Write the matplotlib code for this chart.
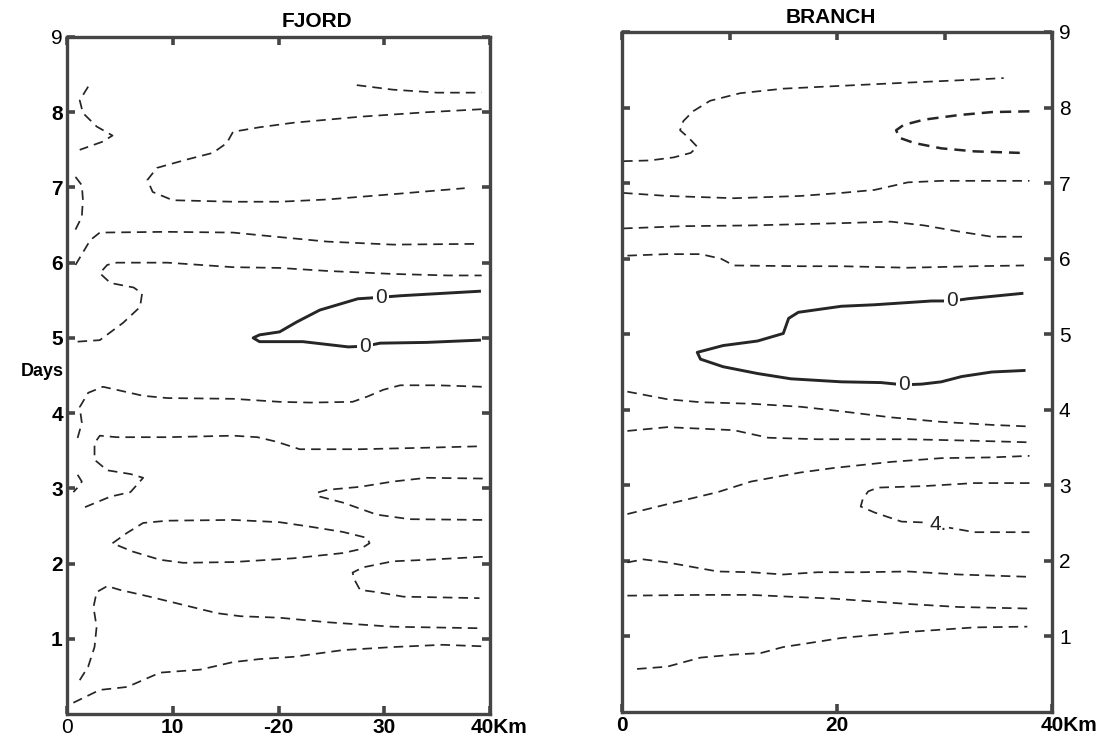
import matplotlib
matplotlib.use('Agg')
import matplotlib.pyplot as plt

plt.rcParams['font.family'] = ['Liberation Sans', 'DejaVu Sans']

# contour lines, as (km, day) pairs
# ---- FJORD ----
f_a = [(2.0, 8.34), (1.2, 8.16), (1.5, 7.99), (2.8, 7.81), (4.3, 7.69), (3.4, 7.61), (1.2, 7.50)]
f_b = [(0.8, 7.14), (1.4, 7.03), (1.5, 6.84), (1.4, 6.61), (0.8, 6.44)]
f_top = [(27.4, 8.36), (30.8, 8.30), (35.0, 8.26), (39.2, 8.26)]
f_e = [(39.2, 8.04), (34.0, 8.00), (27.7, 7.94), (21.4, 7.86), (18.2, 7.80), (15.7, 7.74), (15.1, 7.59),
       (13.8, 7.46), (11.3, 7.37), (8.5, 7.26), (7.6, 7.10), (8.1, 6.94), (10.0, 6.83), (15.7, 6.81),
       (20.1, 6.81), (24.6, 6.84), (30.8, 6.91), (37.6, 6.99)]
f_c = [(0.8, 5.97), (2.2, 6.30), (3.1, 6.40), (9.4, 6.41), (15.7, 6.40), (20.1, 6.34), (24.6, 6.28),
       (30.8, 6.24), (38.8, 6.25)]
f_d = [(1.0, 4.95), (3.1, 4.97), (5.3, 5.20), (6.9, 5.41), (7.1, 5.59), (6.3, 5.67), (4.1, 5.73),
       (3.1, 5.86), (3.8, 5.97), (4.7, 6.00), (9.5, 6.00), (15.7, 5.94), (20.1, 5.93), (24.6, 5.89),
       (30.8, 5.85), (36.0, 5.83), (39.2, 5.83)]
f_g = [(1.0, 3.67), (1.4, 3.87), (1.2, 4.08), (2.0, 4.27), (3.4, 4.35), (5.0, 4.30), (7.2, 4.23),
       (9.5, 4.20), (15.7, 4.19), (20.1, 4.15), (23.0, 4.14), (27.0, 4.15), (28.4, 4.22), (29.9, 4.31),
       (31.5, 4.37), (35.0, 4.37), (39.3, 4.35)]
f_h = [(1.7, 2.75), (4.1, 2.89), (6.0, 2.95), (7.2, 3.14), (6.0, 3.19), (3.8, 3.24), (2.6, 3.38),
       (2.6, 3.60), (3.1, 3.70), (4.7, 3.68), (9.5, 3.68), (15.7, 3.70), (18.0, 3.68), (19.8, 3.62),
       (22.0, 3.52), (27.7, 3.52), (34.0, 3.54), (39.3, 3.56)]
f_s = [(1.0, 3.18), (1.4, 3.09), (1.0, 3.01), (0.6, 2.95)]
f_i = [(4.3, 2.27), (5.7, 2.41), (7.2, 2.54), (9.5, 2.57), (15.7, 2.58), (20.1, 2.55), (23.0, 2.49),
       (26.1, 2.42), (28.4, 2.34), (28.6, 2.27), (27.7, 2.19), (26.1, 2.14), (21.4, 2.07), (15.7, 2.02),
       (11.0, 2.01), (8.8, 2.05), (6.2, 2.16), (4.3, 2.27)]
f_j = [(39.3, 3.13), (34.0, 3.14), (30.8, 3.09), (27.7, 3.02), (24.6, 2.98), (23.6, 2.94), (23.9, 2.89),
       (26.1, 2.81), (29.3, 2.65), (32.4, 2.59), (39.3, 2.58)]
f_k = [(39.3, 2.09), (34.0, 2.05), (30.8, 2.03), (28.0, 1.95), (27.0, 1.88), (27.2, 1.78), (27.7, 1.65),
       (29.3, 1.62), (31.8, 1.56), (39.0, 1.54)]
f_l = [(1.2, 0.45), (2.0, 0.63), (2.6, 0.89), (2.8, 1.16), (2.5, 1.42), (2.8, 1.62), (3.8, 1.70),
       (5.0, 1.65), (7.8, 1.56), (11.0, 1.45), (14.2, 1.34), (16.4, 1.30), (20.1, 1.28), (24.6, 1.22),
       (30.8, 1.16), (39.2, 1.14)]
f_m = [(0.6, 0.15), (3.1, 0.32), (5.7, 0.36), (8.8, 0.55), (12.6, 0.59), (15.7, 0.69), (18.2, 0.73),
       (21.4, 0.76), (26.1, 0.85), (30.8, 0.89), (35.5, 0.92), (39.3, 0.90)]
f_zero = [(39.0, 5.62), (31.5, 5.56), (29.7, 5.54), (27.5, 5.52), (23.9, 5.37), (21.7, 5.21), (20.1, 5.08),
          (18.2, 5.04), (17.6, 5.00), (18.2, 4.95), (22.3, 4.95), (26.6, 4.88), (28.2, 4.89), (29.6, 4.93),
          (34.0, 4.94), (39.0, 4.97)]
f_labels = [("0", 29.7, 5.54), ("0", 28.2, 4.89)]

# ---- BRANCH ----
b_a = [(0.1, 7.29), (2.6, 7.30), (4.8, 7.34), (6.4, 7.40), (7.0, 7.48), (6.2, 7.60), (5.4, 7.70),
       (5.7, 7.82), (6.6, 7.95), (8.2, 8.09), (11.0, 8.19), (15.0, 8.25), (22.2, 8.30), (26.6, 8.33),
       (32.8, 8.37), (35.5, 8.39)]
b_b = [(37.9, 7.95), (34.4, 7.94), (31.3, 7.90), (28.1, 7.84), (26.2, 7.77), (25.5, 7.70), (25.8, 7.60),
       (27.2, 7.53), (29.7, 7.46), (32.8, 7.42), (37.0, 7.40)]
b_c = [(0.1, 6.87), (4.2, 6.83), (10.4, 6.80), (16.6, 6.83), (20.4, 6.87), (23.5, 6.91), (26.6, 7.01),
       (29.7, 7.03), (37.9, 7.03)]
b_d = [(0.1, 6.40), (5.7, 6.43), (12.0, 6.44), (20.4, 6.47), (25.0, 6.49), (28.1, 6.44), (31.3, 6.36),
       (34.4, 6.29), (37.4, 6.29)]
b_e = [(0.5, 6.04), (4.2, 6.06), (7.3, 6.06), (9.2, 6.00), (10.4, 5.91), (16.6, 5.90), (20.4, 5.90),
       (26.6, 5.88), (32.8, 5.90), (37.4, 5.91)]
b_f = [(0.5, 4.24), (4.2, 4.14), (7.3, 4.10), (12.0, 4.08), (16.6, 4.04), (20.4, 3.98), (25.0, 3.90),
       (29.7, 3.84), (34.4, 3.80), (37.7, 3.78)]
b_g = [(0.5, 3.72), (4.2, 3.77), (10.4, 3.73), (12.0, 3.68), (13.6, 3.63), (18.2, 3.61), (26.6, 3.61),
       (32.8, 3.59), (37.7, 3.57)]
b_h = [(0.5, 2.62), (4.2, 2.75), (8.9, 2.91), (12.0, 3.05), (16.6, 3.17), (19.7, 3.23), (25.0, 3.31),
       (29.7, 3.36), (34.4, 3.37), (37.9, 3.39)]
b_i = [(37.9, 3.03), (32.8, 3.03), (28.1, 2.99), (23.8, 2.97), (22.9, 2.92), (22.4, 2.82), (22.2, 2.72),
       (23.5, 2.64), (26.0, 2.52), (27.9, 2.51), (29.3, 2.48), (30.4, 2.44), (32.8, 2.38), (37.9, 2.38)]
b_j = [(0.5, 1.98), (2.0, 2.02), (4.2, 1.98), (8.9, 1.86), (12.0, 1.85), (15.0, 1.82), (18.2, 1.85),
       (22.2, 1.85), (26.6, 1.86), (31.3, 1.82), (37.7, 1.79)]
b_k = [(0.5, 1.54), (7.3, 1.55), (12.0, 1.55), (15.0, 1.53), (19.7, 1.50), (26.6, 1.43), (31.3, 1.39),
       (37.7, 1.37)]
b_l = [(1.4, 0.57), (4.2, 0.60), (7.3, 0.72), (10.4, 0.76), (12.9, 0.78), (15.0, 0.86), (18.2, 0.93),
       (20.4, 0.98), (26.6, 1.06), (32.8, 1.12), (37.7, 1.13)]
b_zero = [(37.2, 5.54), (32.2, 5.47), (30.7, 5.44), (28.8, 5.44), (23.5, 5.39), (20.4, 5.37), (16.4, 5.29),
          (15.5, 5.21), (15.0, 5.01), (12.6, 4.91), (9.4, 4.85), (7.0, 4.76), (7.3, 4.67), (9.4, 4.57),
          (12.6, 4.48), (15.7, 4.41), (20.4, 4.37), (24.1, 4.36), (26.2, 4.33), (27.9, 4.34), (29.7, 4.37),
          (31.6, 4.44), (34.4, 4.50), (37.4, 4.52)]
b_labels = [("0", 30.7, 5.44), ("0", 26.2, 4.33), ("4.", 29.4, 2.48)]

fjord_dashed = [f_a, f_b, f_top, f_e, f_c, f_d, f_g, f_h, f_s, f_i, f_j, f_k, f_l, f_m]
branch_dashed = [b_a, b_c, b_d, b_e, b_f, b_g, b_h, b_i, b_j, b_k, b_l]
branch_bold_dashed = [b_b]

day_ticks = [1, 2, 3, 4, 5, 6, 7, 8, 9]
day_labels = ["1", "2", "3", "4", "5", "6", "7", "8", "9"]

INK = '#262626'
FRAME = '#454545'
FS = 15


def xy(pts):
    return [p[0] for p in pts], [p[1] for p in pts]


def frame(ax):
    ax.set_xlim(0, 40)
    ax.set_ylim(0, 9)
    for s in ax.spines.values():
        s.set_linewidth(2.4)
        s.set_color(FRAME)
    ax.tick_params(which='both', direction='in', length=6, width=2.6, color=FRAME,
                   labelsize=FS, top=True)


def draw(ax, dashed, zero, labels, bold_dashed=()):
    for c in dashed:
        x, y = xy(c)
        ax.plot(x, y, color=INK, lw=1.25, ls=(0, (5.5, 3.5)), zorder=2)
    for c in bold_dashed:
        x, y = xy(c)
        ax.plot(x, y, color=INK, lw=1.8, ls=(0, (4.5, 2.8)), zorder=2)
    x, y = xy(zero)
    ax.plot(x, y, color=INK, lw=2.1, zorder=2)
    for t, lx, ly in labels:
        ax.text(lx, ly, t, fontsize=15, ha='center', va='center', color=INK, zorder=3,
                bbox=dict(facecolor='white', edgecolor='none', pad=1.5))


fig = plt.figure(figsize=(11.06, 7.37), dpi=100)
ax1 = fig.add_axes([0.0606, 0.0312, 0.3825, 0.9186])
ax2 = fig.add_axes([0.5624, 0.0339, 0.3888, 0.9227])

# left panel
frame(ax1)
draw(ax1, fjord_dashed, f_zero, f_labels)
ax1.set_yticks(day_ticks)
ax1.set_yticklabels(day_labels)
ax1.tick_params(axis='y', left=True, right=True, pad=3)
for lab in ax1.get_yticklabels()[:-1]:
    lab.set_fontweight('bold')
ax1.set_xticks([0, 10, 20, 30, 40])
ax1.set_xticklabels(["0", "10", "-20", "30", ""], fontweight='bold')
ax1.get_xticklabels()[0].set_fontweight('normal')
ax1.tick_params(axis='x', pad=3)
ax1.text(38.2, -0.006, "40Km", transform=ax1.get_xaxis_transform(), ha='left', va='top',
         fontsize=FS, fontweight='bold')
ax1.text(-0.008, 4.55, "Days", transform=ax1.get_yaxis_transform(), ha='right', va='center',
         fontsize=13, fontweight='bold')

# right panel
frame(ax2)
draw(ax2, branch_dashed, b_zero, b_labels, branch_bold_dashed)
ax2.set_yticks(day_ticks)
ax2.set_yticklabels(day_labels)
ax2.tick_params(axis='y', left=True, right=True, labelleft=False, labelright=True, pad=5)
ax2.set_xticks([0, 20, 40])
ax2.set_xticklabels(["0", "20", ""], fontweight='bold')
ax2.set_xticks([10, 30], minor=True)
ax2.tick_params(axis='x', which='minor', bottom=False, top=True)
ax2.tick_params(axis='x', pad=3)
ax2.text(38.9, -0.006, "40Km", transform=ax2.get_xaxis_transform(), ha='left', va='top',
         fontsize=FS, fontweight='bold')

fig.text(0.2866, 0.9715, "FJORD", ha='center', va='center', fontsize=15, fontweight='bold')
fig.text(0.7514, 0.9756, "BRANCH", ha='center', va='center', fontsize=15, fontweight='bold')

fig.savefig('out.png', dpi=100)
